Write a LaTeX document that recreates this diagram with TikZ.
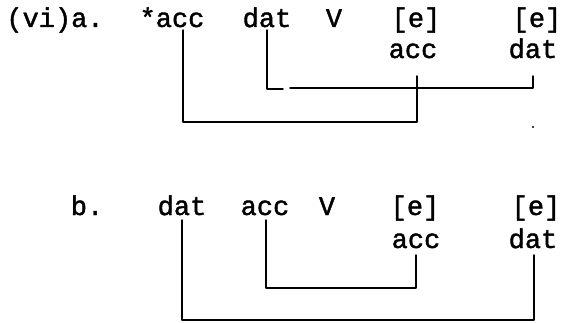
\documentclass[tikz,border=0pt]{standalone}
\usepackage{fontspec}
\setmonofont[FakeBold=1.5]{Liberation Mono}
\begin{document}
\begin{tikzpicture}[x=1pt, y=-1pt, line cap=round, line join=round,
	word/.style={font=\ttfamily\fontsize{27}{27}\selectfont, inner sep=0pt, anchor=base},
	link/.style={line width=1.4pt}]
	\useasboundingbox (0,0) rectangle (562,323);
	
	% Beispiel a, obere Zeile
	\node[word] (A0) at (55,27) {(vi)a.};
	\node[word] (A1) at (172,27) {*acc};
	\node[word] (A2) at (267,27) {dat};
	\node[word] (A3) at (334,27) {V};
	\node[word] (A4) at (416,27) {[e]};
	\node[word] (A5) at (537,27) {[e]};
	
	% Beispiel a, untere Zeile
	\node[word] (B1) at (413,58) {acc};
	\node[word] (B2) at (533,58) {dat};
	
	% Beispiel b, obere Zeile
	\node[word] (C0) at (87,215) {b.};
	\node[word] (C1) at (182,215) {dat};
	\node[word] (C2) at (265,215) {acc};
	\node[word] (C3) at (327,215) {V};
	\node[word] (C4) at (415,215) {[e]};
	\node[word] (C5) at (536,215) {[e]};
	
	% Beispiel b, untere Zeile
	\node[word] (D1) at (416,248) {acc};
	\node[word] (D2) at (533,248) {dat};
	
	% --- Verbindungen a ---
	\draw[link] ([xshift=11pt,yshift=-3pt]A1.base) -- ++(0,92) -| ([xshift=4pt,yshift=-18pt]B1.base);
	\draw[link] ([yshift=-3pt]A2.base) -- ++(0,59) -- ++(16,0);
	\draw[link] ([xshift=23pt,yshift=-61pt]A2.base) -| ([yshift=-18pt]B2.base);
	\fill ([yshift=-69pt]B2.base) circle (1.1pt);
	
	% --- Verbindungen b ---
	\draw[link] ([xshift=1pt,yshift=-5pt]C2.base) -- ++(0,68) -| ([yshift=-7pt]D1.base);
	\draw[link] ([yshift=-5pt]C1.base) -- ++(0,100) -| ([xshift=1pt,yshift=-7pt]D2.base);
	
\end{tikzpicture}
\end{document}
